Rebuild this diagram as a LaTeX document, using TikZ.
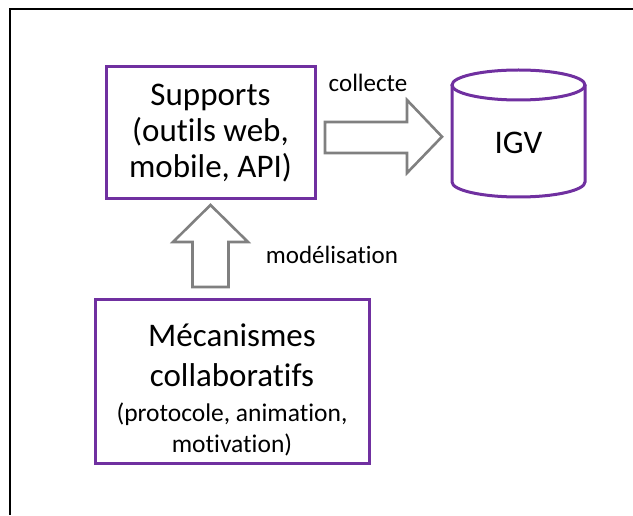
\documentclass[tikz,border=0pt]{standalone}
\usepackage{fontspec}
\setmainfont[Ligatures=NoCommon]{Carlito}
\definecolor{boxpurple}{HTML}{7030A0}
\definecolor{arrowgray}{HTML}{808080}
\begin{document}
\begin{tikzpicture}[x=1pt,y=1pt,
  box/.style={draw=boxpurple, line width=3pt, fill=white, align=center, inner sep=0pt},
  bigtext/.style={font=\fontsize{33}{36}\selectfont},
  blockarrow/.style={draw=arrowgray, line width=2.6pt, fill=white, line join=miter},
  lbl/.style={font=\fontsize{25}{29}\selectfont, inner sep=0pt},
  cyl/.style={draw=boxpurple, line width=3pt, fill=white}]
\useasboundingbox (0,0) rectangle (633,515);
% frame
\draw[line width=2pt] (633,505.5) -- (10,505.5) -- (10,0);
% Supports box
\node[box, bigtext, minimum width=209pt, minimum height=132pt] (sup) at (210.5,382)
  {Supports\\(outils web,\\mobile, API)};
% Mecanismes box
\node[box, minimum width=274pt, minimum height=164pt] (mec) at (232,133) {};
\node[align=center, inner sep=0pt, font=\fontsize{33}{40}\selectfont, yshift=-8pt] (mectext) at (mec.center)
  {Mécanismes\\collaboratifs\\[-5pt]{\fontsize{25.5}{29}\selectfont (protocole, animation,}\\[-9pt]{\fontsize{25.5}{29}\selectfont motivation)}};
% IGV cylinder
\draw[cyl] (452,430) -- (452,333) arc[start angle=180, end angle=360, x radius=66.5, y radius=15] -- (585,430);
\draw[cyl] (518.5,430) ellipse[x radius=66.5, y radius=15];
\node[bigtext, inner sep=0pt] (igv) at (518.5,372) {IGV};
% arrow collecte
\draw[blockarrow] (325,393) -- (407,393) -- (407,415) -- (442,378.3) -- (407,342) -- (407,362) -- (325,362) -- cycle;
\node[lbl] (collecte) at (368,432) {collecte};
% arrow modelisation
\draw[blockarrow] (192.5,228) -- (192.5,273) -- (173,273) -- (210.5,310) -- (248,273) -- (228.5,273) -- (228.5,228) -- cycle;
\node[lbl] (model) at (332,260) {modélisation};
\end{tikzpicture}
\end{document}
